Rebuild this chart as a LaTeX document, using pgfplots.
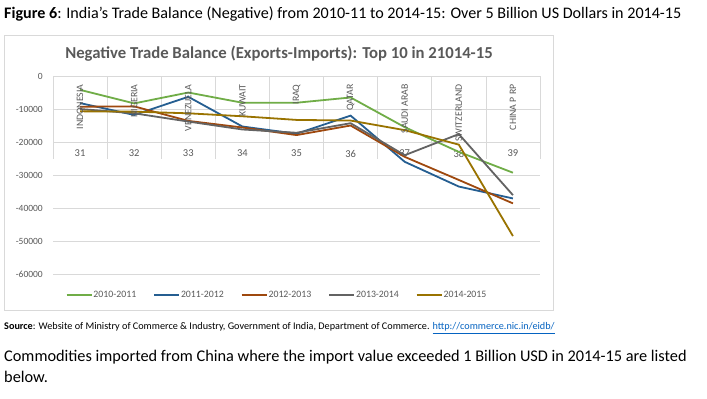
\documentclass[border=0pt]{standalone}
\usepackage{fontspec}
\setmainfont{Carlito}
\usepackage{pgfplots}
\pgfplotsset{compat=1.18}
\definecolor{cg}{HTML}{70AD47}
\definecolor{cb}{HTML}{255E91}
\definecolor{co}{HTML}{9E480E}
\definecolor{cy}{HTML}{636363}
\definecolor{cd}{HTML}{997300}
\definecolor{tg}{HTML}{595959}
\definecolor{gridc}{HTML}{D9D9D9}
\definecolor{urlc}{HTML}{0563C1}
\begin{document}
\begin{tikzpicture}
\begin{scope}[x=1bp,y=-1bp]
\path[fill=white] (0,0) rectangle (707,398);
\draw[gridc, line width=0.8bp] (4,35) rectangle (553,310);
\node[anchor=west, inner sep=0pt, font=\fontsize{16.1bp}{19bp}\selectfont] at (4,14) {\textbf{Figure 6}: India’s Trade Balance (Negative) from 2010-11 to 2014-15: Over 5 Billion US Dollars in 2014-15};
\node[inner sep=0pt, text=tg, font=\bfseries\fontsize{16.7bp}{19bp}\selectfont] at (279,54) {Negative Trade Balance (Exports-Imports): Top 10 in 21014-15};
\node[anchor=west, inner sep=0pt, font=\fontsize{10.2bp}{12bp}\selectfont] at (4,328) {\textbf{Source}: Website of Ministry of Commerce \& Industry, Government of India, Department of Commerce. \textcolor{urlc}{\underline{http://commerce.nic.in/eidb/}}};
\node[anchor=west, inner sep=0pt, font=\fontsize{16.3bp}{19bp}\selectfont] at (4,357) {Commodities imported from China where the import value exceeded 1 Billion USD in 2014-15 are listed};
\node[anchor=west, inner sep=0pt, font=\fontsize{16.3bp}{19bp}\selectfont] at (4,377) {below.};
\end{scope}
\begin{axis}[
  at={(53bp,-274bp)}, anchor=south west,
  width=487bp, height=198bp, scale only axis,
  xmin=30.5, xmax=39.5, ymin=-60000, ymax=0,
  ytick={-60000,-50000,-40000,-30000,-20000,-10000,0},
  yticklabels={-60000,-50000,-40000,-30000,-20000,-10000,0},
  scaled y ticks=false,
  xtick=\empty,
  axis line style={draw=none},
  tick style={draw=none},
  ymajorgrids,
  major grid style={draw=gridc, line width=0.75bp},
  yticklabel style={font=\fontsize{9.5bp}{11bp}\selectfont, text=tg, inner sep=0pt, xshift=-10bp, anchor=east},
  clip=false,
  legend style={at={(0.459,-0.106)}, anchor=center, draw=none, fill=none,
    font=\fontsize{9.8bp}{11bp}\selectfont, text=tg,
    /tikz/every even column/.append style={column sep=16bp},
    nodes={inner xsep=1bp}},
  legend columns=5,
  legend image code/.code={\draw[#1, line width=1.8bp] (0bp,0bp) -- (25bp,0bp);},
  every axis plot/.append style={line width=1.8bp, mark=none},
]
\pgfplotsinvokeforeach{30.5,31.5,...,39.5}{\draw[gridc, line width=0.75bp] (axis cs:#1,0) -- (axis cs:#1,-25200);}
\pgfplotsinvokeforeach{31,...,39}{\node[text=tg, font=\fontsize{10.5bp}{12bp}\selectfont] at (axis cs:#1,-23500) {#1};}
\addplot[cg] coordinates {(31,-4200) (32,-8300) (33,-5000) (34,-8100) (35,-8100) (36,-6500) (37,-15500) (38,-23000) (39,-29300)};
\addplot[cb] coordinates {(31,-8200) (32,-11800) (33,-6300) (34,-15300) (35,-17500) (36,-12000) (37,-26000) (38,-33500) (39,-37100)};
\addplot[co] coordinates {(31,-9300) (32,-9200) (33,-13600) (34,-15600) (35,-17900) (36,-15000) (37,-24500) (38,-31500) (39,-38600)};
\addplot[cy] coordinates {(31,-10000) (32,-11300) (33,-13800) (34,-16200) (35,-17200) (36,-14300) (37,-24000) (38,-17600) (39,-36100)};
\addplot[cd] coordinates {(31,-10700) (32,-10800) (33,-11300) (34,-12200) (35,-13300) (36,-13500) (37,-16400) (38,-20800) (39,-48500)};
\legend{2010-2011,2011-2012,2012-2013,2013-2014,2014-2015}
\node[rotate=90, anchor=east, inner sep=0pt, text=tg, font=\fontsize{9.8bp}{11bp}\selectfont] at (axis cs:31,-2500) {INDONESIA};
\node[rotate=90, anchor=east, inner sep=0pt, text=tg, font=\fontsize{9.8bp}{11bp}\selectfont] at (axis cs:32,-2500) {NIGERIA};
\node[rotate=90, anchor=east, inner sep=0pt, text=tg, font=\fontsize{9.8bp}{11bp}\selectfont] at (axis cs:33,-2500) {VENEZUELA};
\node[rotate=90, anchor=east, inner sep=0pt, text=tg, font=\fontsize{9.8bp}{11bp}\selectfont] at (axis cs:34,-2500) {KUWAIT};
\node[rotate=90, anchor=east, inner sep=0pt, text=tg, font=\fontsize{9.8bp}{11bp}\selectfont] at (axis cs:35,-2500) {IRAQ};
\node[rotate=90, anchor=east, inner sep=0pt, text=tg, font=\fontsize{9.8bp}{11bp}\selectfont] at (axis cs:36,-2500) {QATAR};
\node[rotate=90, anchor=east, inner sep=0pt, text=tg, font=\fontsize{9.8bp}{11bp}\selectfont] at (axis cs:37,-2500) {SAUDI ARAB};
\node[rotate=90, anchor=east, inner sep=0pt, text=tg, font=\fontsize{9.8bp}{11bp}\selectfont] at (axis cs:38,-2500) {SWITZERLAND};
\node[rotate=90, anchor=east, inner sep=0pt, text=tg, font=\fontsize{9.8bp}{11bp}\selectfont] at (axis cs:39,-2500) {CHINA P RP};
\end{axis}
\end{tikzpicture}
\end{document}
